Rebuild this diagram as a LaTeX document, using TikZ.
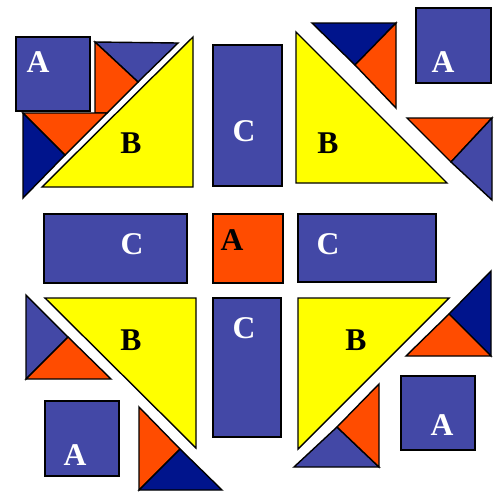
\documentclass[tikz,border=0pt]{standalone}
\usepackage{fontspec}
\setmainfont{Liberation Serif}

\definecolor{quiltblue}{RGB}{67,72,166}
\definecolor{quiltnavy}{RGB}{0,20,140}
\definecolor{quiltorange}{RGB}{255,76,0}
\definecolor{quiltyellow}{RGB}{255,255,0}

\begin{document}
\begin{tikzpicture}[
    x=0.02cm, y=-0.02cm,
    piece/.style={draw=black, line width=0.8pt, line join=miter},
    blue/.style={piece, fill=quiltblue},
    navy/.style={piece, fill=quiltnavy},
    orange/.style={piece, fill=quiltorange},
    yellow/.style={piece, fill=quiltyellow},
    lblw/.style={font=\fontsize{18}{20}\selectfont\bfseries, text=white, inner sep=0pt},
    lblk/.style={font=\fontsize{18}{20}\selectfont\bfseries, text=black, inner sep=0pt}
]
\useasboundingbox (0,0) rectangle (500,491);

% --- HAUT GAUCHE ---
\filldraw[blue] (16,37) rectangle (90,111);
\node[lblw] (a-tl) at (38,62) {A};
\filldraw[blue] (95,42) -- (178,43) -- (138,82) -- cycle;
\filldraw[orange] (95,42) -- (138,82) -- (107,113) -- (95,113) -- cycle;
\filldraw[orange] (23,113) -- (107,113) -- (65,155) -- cycle;
\filldraw[navy] (23,113) -- (65,155) -- (23,198) -- cycle;
\filldraw[yellow] (193,37) -- (193,187) -- (42,187) -- cycle;
\node[lblk] (b-tl) at (131,143) {B};

% --- HAUT DROITE ---
\filldraw[navy] (312,23) -- (396,23) -- (355,65) -- cycle;
\filldraw[orange] (396,23) -- (355,65) -- (396,108) -- cycle;
\filldraw[yellow] (296,32) -- (296,183) -- (447,183) -- cycle;
\node[lblk] (b-tr) at (328,143) {B};
\filldraw[blue] (416,8) rectangle (491,83);
\node[lblw] (a-tr) at (443,62) {A};
\filldraw[orange] (407,118) -- (492,118) -- (451,162) -- cycle;
\filldraw[blue] (492,118) -- (451,162) -- (492,200) -- cycle;

% --- CENTRE ---
\filldraw[blue] (213,45) rectangle (282,186);
\node[lblw] (c-top) at (244,131) {C};
\filldraw[blue] (44,214) rectangle (187,283);
\node[lblw] (c-left) at (132,244) {C};
\filldraw[orange] (213,214) rectangle (283,283);
\node[lblk] (a-mid) at (232,240) {A};
\filldraw[blue] (298,214) rectangle (436,282);
\node[lblw] (c-right) at (328,244) {C};
\filldraw[blue] (213,298) rectangle (281,437);
\node[lblw] (c-bot) at (244,328) {C};

% --- BAS GAUCHE ---
\filldraw[blue] (26,295) -- (68,337) -- (26,379) -- cycle;
\filldraw[orange] (26,379) -- (68,337) -- (111,379) -- cycle;
\filldraw[yellow] (45,298) -- (196,298) -- (196,448) -- cycle;
\node[lblk] (b-bl) at (131,340) {B};
\filldraw[blue] (45,401) rectangle (119,476);
\node[lblw] (a-bl) at (75,455) {A};
\filldraw[orange] (139,407) -- (180,449) -- (139,490) -- cycle;
\filldraw[navy] (139,490) -- (180,449) -- (222,490) -- cycle;

% --- BAS DROITE ---
\filldraw[yellow] (298,298) -- (449,298) -- (298,449) -- cycle;
\node[lblk] (b-br) at (356,340) {B};
\filldraw[navy] (449,314) -- (491,271) -- (491,356) -- cycle;
\filldraw[orange] (406,356) -- (491,356) -- (449,314) -- cycle;
\filldraw[blue] (401,376) rectangle (475,450);
\node[lblw] (a-br) at (442,425) {A};
\filldraw[blue] (294,467) -- (337,427) -- (379,467) -- cycle;
\filldraw[orange] (337,427) -- (379,384) -- (379,467) -- cycle;

\end{tikzpicture}
\end{document}
